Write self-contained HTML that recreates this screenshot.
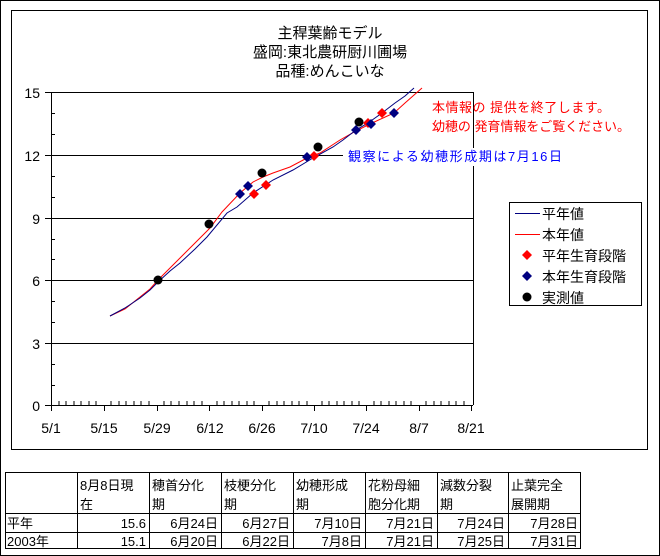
<!DOCTYPE html>
<html><head><meta charset="utf-8"><style>
body{margin:0;background:#fff}
svg{display:block;font-family:"Liberation Sans","Noto Sans CJK JP",sans-serif}
</style></head><body>
<svg width="660" height="556" viewBox="0 0 660 556" xmlns="http://www.w3.org/2000/svg">
<rect x="0.5" y="0.5" width="659" height="555" fill="#fff" stroke="#000"/>
<rect x="11.5" y="10.5" width="636" height="439" fill="#fff" stroke="#000"/>
<g font-size="15" text-anchor="middle" fill="#000">
<text x="330" y="38">主稈葉齢モデル</text>
<text x="330" y="57">盛岡:東北農研厨川圃場</text>
<text x="330" y="76">品種:めんこいな</text>
</g>
<g stroke="#000" stroke-width="1">
<line x1="51" y1="92.5" x2="473" y2="92.5"/>
<line x1="51" y1="155.5" x2="343" y2="155.5"/>
<line x1="51" y1="218.5" x2="473" y2="218.5"/>
<line x1="51" y1="280.5" x2="473" y2="280.5"/>
<line x1="51" y1="343.5" x2="473" y2="343.5"/>
<line x1="473.5" y1="92" x2="473.5" y2="148"/>
<line x1="473.5" y1="166" x2="473.5" y2="405"/>
<line x1="51.5" y1="92" x2="51.5" y2="406"/>
<line x1="51" y1="405.5" x2="473" y2="405.5"/>
<line x1="45" y1="92.5" x2="51" y2="92.5"/><line x1="45" y1="155.5" x2="51" y2="155.5"/><line x1="45" y1="218.5" x2="51" y2="218.5"/><line x1="45" y1="280.5" x2="51" y2="280.5"/><line x1="45" y1="343.5" x2="51" y2="343.5"/><line x1="45" y1="405.5" x2="51" y2="405.5"/>
<path d="M51 113.5h4M51 134.5h4M51 176.5h4M51 197.5h4M51 239.5h4M51 259.5h4M51 301.5h4M51 322.5h4M51 364.5h4M51 385.5h4"/>
<path d="M51.5 405v6M104.5 405v6M157.5 405v6M209.5 405v6M262.5 405v6M314.5 405v6M366.5 405v6M419.5 405v6M471.5 405v6"/>
<path d="M59 405v-4M66 405v-4M74 405v-4M81 405v-4M89 405v-4M96 405v-4M111 405v-4M119 405v-4M126 405v-4M134 405v-4M141 405v-4M149 405v-4M164 405v-4M171 405v-4M179 405v-4M187 405v-4M194 405v-4M202 405v-4M217 405v-4M224 405v-4M232 405v-4M239 405v-4M247 405v-4M254 405v-4M269 405v-4M277 405v-4M284 405v-4M292 405v-4M299 405v-4M307 405v-4M322 405v-4M329 405v-4M337 405v-4M344 405v-4M352 405v-4M359 405v-4M374 405v-4M381 405v-4M389 405v-4M396 405v-4M404 405v-4M411 405v-4M426 405v-4M434 405v-4M441 405v-4M449 405v-4M456 405v-4M464 405v-4"/>
</g>
<g font-size="14" text-anchor="end" fill="#000">
<text x="40" y="98">15</text><text x="40" y="161">12</text><text x="40" y="224">9</text><text x="40" y="286">6</text><text x="40" y="349">3</text><text x="40" y="411">0</text>
</g>
<g font-size="14" text-anchor="middle" fill="#000">
<text x="51" y="433">5/1</text><text x="104" y="433">5/15</text><text x="157" y="433">5/29</text><text x="210" y="433">6/12</text><text x="262" y="433">6/26</text><text x="314" y="433">7/10</text><text x="366" y="433">7/24</text><text x="419" y="433">8/7</text><text x="471" y="433">8/21</text>
</g>
<polyline fill="none" stroke="#ff0000" stroke-width="1" points="110,316 125,309 140,297 150,289 158,280 170,268 183,255 195,243 210,228 222,212 240,193 253,182 263,177 273,173 290,167 307,158 320,153 340,140 356,131 370,124 383,118 394,113 405,103 422,88"/>
<polyline fill="none" stroke="#000080" stroke-width="1" points="110,316 125,308 140,298 150,290 158,282 170,271 180,263 195,249 207,237 227,213 237,207 253,193 273,180 293,170 313,158 333,147 343,140 356,130 368,123 382,113 395,103 405,96 414,88"/>
<g fill="#ff0000"><path d="M254 189l5 5-5 5-5-5z"/><path d="M266 180l5 5-5 5-5-5z"/><path d="M314 151l5 5-5 5-5-5z"/><path d="M382 108l5 5-5 5-5-5z"/><path d="M368 118l5 5-5 5-5-5z"/></g>
<g fill="#000080"><path d="M240 189l5 5-5 5-5-5z"/><path d="M248 181l5 5-5 5-5-5z"/><path d="M307 152l5 5-5 5-5-5z"/><path d="M356 125l5 5-5 5-5-5z"/><path d="M371 119l5 5-5 5-5-5z"/><path d="M394 108l5 5-5 5-5-5z"/></g>
<g fill="#000"><circle cx="158" cy="280" r="4.5"/><circle cx="209" cy="224" r="4.5"/><circle cx="262" cy="173" r="4.5"/><circle cx="318" cy="147" r="4.5"/><circle cx="359" cy="122" r="4.5"/></g>
<g font-size="13" fill="#ff0000"><text x="432" y="112" textLength="178" lengthAdjust="spacing">本情報の 提供を終了します。</text><text x="432" y="131" textLength="198" lengthAdjust="spacing">幼穂の 発育情報をご覧ください。</text></g>
<text x="348" y="161" font-size="13" fill="#0000ff" textLength="214" lengthAdjust="spacing">観察による幼穂形成期は7月16日</text>
<rect x="509.5" y="202.5" width="132" height="103" fill="#fff" stroke="#000"/>
<line x1="515" y1="213.5" x2="540" y2="213.5" stroke="#000080"/>
<line x1="515" y1="234.5" x2="540" y2="234.5" stroke="#ff0000"/>
<path d="M527 250l5 5-5 5-5-5z" fill="#ff0000"/>
<path d="M527 271l5 5-5 5-5-5z" fill="#000080"/>
<circle cx="527" cy="297" r="4.5" fill="#000"/>
<g font-size="14" fill="#000"><text x="542" y="219">平年値</text><text x="542" y="240">本年値</text><text x="542" y="261">平年生育段階</text><text x="542" y="282">本年生育段階</text><text x="542" y="303">実測値</text></g>
<g stroke="#000" fill="none">
<rect x="5.5" y="472.5" width="575" height="76"/>
<path d="M77.5 472v77M149.5 472v77M221.5 472v77M293.5 472v77M365.5 472v77M437.5 472v77M508.5 472v77M5 513.5h576M5 532.5h576"/>
</g>
<g font-size="13" fill="#000">
<text x="80" y="490">8月8日現</text><text x="80" y="509">在</text>
<text x="152" y="490">穂首分化</text><text x="152" y="509">期</text>
<text x="224" y="490">枝梗分化</text><text x="224" y="509">期</text>
<text x="296" y="490">幼穂形成</text><text x="296" y="509">期</text>
<text x="368" y="490">花粉母細</text><text x="368" y="509">胞分化期</text>
<text x="440" y="490">減数分裂</text><text x="440" y="509">期</text>
<text x="511" y="490">止葉完全</text><text x="511" y="509">展開期</text>
<text x="7" y="528">平年</text><text x="7" y="546">2003年</text>
</g>
<g font-size="13" fill="#000" text-anchor="end">
<text x="146" y="528">15.6</text><text x="218" y="528">6月24日</text><text x="290" y="528">6月27日</text><text x="362" y="528">7月10日</text><text x="434" y="528">7月21日</text><text x="505" y="528">7月24日</text><text x="578" y="528">7月28日</text>
<text x="146" y="546">15.1</text><text x="218" y="546">6月20日</text><text x="290" y="546">6月22日</text><text x="362" y="546">7月8日</text><text x="434" y="546">7月21日</text><text x="505" y="546">7月25日</text><text x="578" y="546">7月31日</text>
</g>
</svg>
</body></html>
